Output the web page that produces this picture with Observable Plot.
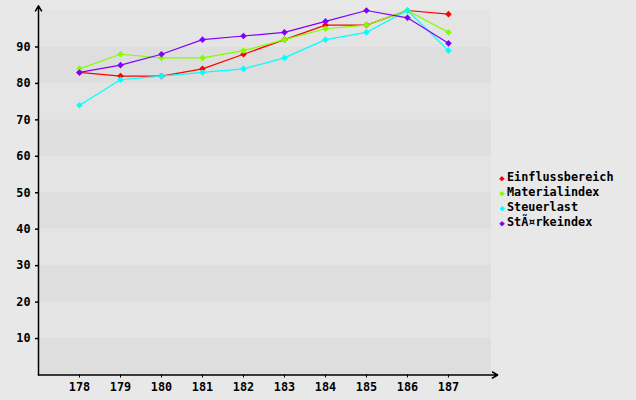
<!DOCTYPE html>
<html>
<head>
<meta charset="utf-8">
<script src="https://cdn.jsdelivr.net/npm/d3@7"></script>
<script src="https://cdn.jsdelivr.net/npm/@observablehq/plot@0.6"></script>
<style>
  html, body { margin: 0; padding: 0; background: #e8e8e8; }
  #wrap { position: relative; width: 636px; height: 400px; }
  #legend { position: absolute; left: 497px; top: 170px; font: bold 11.8px "DejaVu Sans Mono", monospace; color: #000; }
  #legend div { height: 15px; line-height: 15px; white-space: nowrap; }
  #legend span.m { display: inline-block; width: 10px; text-align: center; font-size: 9px; }
</style>
</head>
<body>
<div id="wrap"><div id="legend"></div></div>
<script>
const years = [178, 179, 180, 181, 182, 183, 184, 185, 186, 187];
const seriesNames = ["Einflussbereich", "Materialindex", "Steuerlast", "StÃ¤rkeindex"];
const colors = ["#ff0000", "#80ff00", "#00ffff", "#8000ff"];
const einfluss = [83, 82, 82, 84, 88, 92, 96, 96, 100, 99];
const material = [84, 88, 87, 87, 89, 92, 95, 96, 100, 94];
const steuer = [74, 81, 82, 83, 84, 87, 92, 94, 100, 89];
const staerke = [83, 85, 88, 92, 93, 94, 97, 100, 98, 91];
const yTicks = [10, 20, 30, 40, 50, 60, 70, 80, 90];
const bandStarts = [0, 10, 20, 30, 40, 50, 60, 70, 80, 90];

const allSeries = [einfluss, material, steuer, staerke];
const data = [];
allSeries.forEach((vals, si) => vals.forEach((v, i) => data.push({year: years[i], value: v, series: seriesNames[si]})));

const xMin = 177, xMax = 188.05, yMax = 100;
const bands = bandStarts.map((b, i) => ({y1: b, y2: b + 10, fill: i % 2 === 0 ? "#dedede" : "#e4e4e4"}));
const font = "DejaVu Sans Mono, monospace";

const chart = Plot.plot({
  width: 636,
  height: 400,
  marginLeft: 38,
  marginRight: 145,
  marginTop: 10,
  marginBottom: 25.5,
  style: {background: "#e8e8e8", fontFamily: font, fontSize: "11.8px", fontWeight: "bold", color: "#000"},
  x: {domain: [xMin, xMax], axis: null},
  y: {domain: [0, yMax], axis: null},
  color: {domain: seriesNames, range: colors},
  marks: [
    Plot.rect(bands, {x1: xMin, x2: xMax, y1: "y1", y2: "y2", fill: "fill"}),
    Plot.axisY({ticks: yTicks, tickSize: 3, tickPadding: 5, tickFormat: d => d, fontWeight: "bold", fontSize: 11.8, stroke: "#000", strokeWidth: 1.5}),
    Plot.axisX({ticks: years, tickSize: 3, tickPadding: 5, tickFormat: d => d, fontWeight: "bold", fontSize: 11.8, stroke: "#000"}),
    Plot.arrow([{x1: xMin, y1: 0, x2: xMin, y2: 101.3}], {x1: "x1", y1: "y1", x2: "x2", y2: "y2", stroke: "#000", strokeWidth: 1.5, headLength: 6, bend: 0}),
    Plot.arrow([{x1: xMin, y1: 0, x2: 188.2, y2: 0}], {x1: "x1", y1: "y1", x2: "x2", y2: "y2", stroke: "#000", strokeWidth: 1.5, headLength: 6, bend: 0}),
    Plot.line(data, {x: "year", y: "value", z: "series", stroke: "series", strokeWidth: 1.2}),
    Plot.dot(data, {x: "year", y: "value", fill: "series", symbol: "diamond2", r: 3, stroke: null})
  ]
});
document.getElementById("wrap").prepend(chart);

const legend = document.getElementById("legend");
seriesNames.forEach((name, i) => {
  const row = document.createElement("div");
  const m = document.createElement("span");
  m.className = "m";
  m.style.color = colors[i];
  m.textContent = "◆";
  row.appendChild(m);
  row.appendChild(document.createTextNode(name));
  legend.appendChild(row);
});
</script>
</body>
</html>
